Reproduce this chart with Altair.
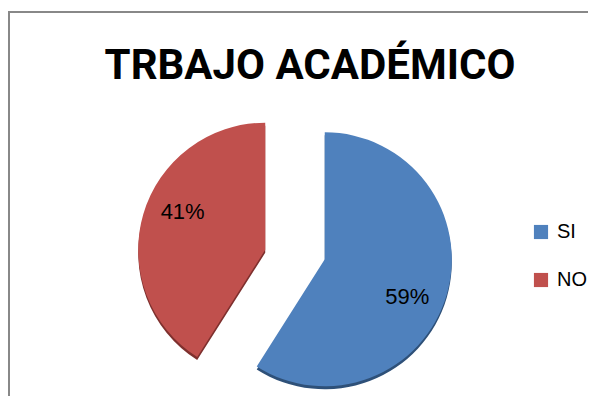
import altair as alt
import pandas as pd

# ---- data ----
categories = ["SI", "NO"]
values = [59, 41]
labels = ["59%", "41%"]
colors = ["#4F81BD", "#C0504D"]
edge_colors = ["#2E5078", "#7E302E"]
title_text = "TRBAJO ACADÉMICO"

df = pd.DataFrame({"cat": categories, "val": values, "label": labels,
                   "order": list(range(len(categories)))})

# ---- layout constants ----
W, H = 580, 385
CX, CY = 287, 243.5          # pie centre inside the view (pixels)
R = 127                      # pie radius
EXPLODE = 31                 # explode distance
TILT = 0.55                  # vertical squash of the 3-D look
LX, LY = 86, 135             # label offsets from slice apex
DEPTH = 3                    # 3-D edge thickness
FONT = "Liberation Sans"

xs = alt.Scale(domain=[-CX, W - CX], nice=False, zero=False)
ys = alt.Scale(domain=[-(H - CY), CY], nice=False, zero=False)

base = (
    alt.Chart(df)
    .transform_window(cum="sum(val)", sort=[alt.SortField("order")], frame=[None, 0])
    .transform_joinaggregate(total="sum(val)")
    .transform_calculate(
        t1="2*PI*datum.cum/datum.total",
        t0="2*PI*(datum.cum-datum.val)/datum.total",
    )
    .transform_calculate(mid="(datum.t0+datum.t1)/2")
    .transform_calculate(
        ex=f"{EXPLODE}*sin(datum.mid)",
        ey=f"{EXPLODE}*{TILT}*cos(datum.mid)",
    )
    .transform_calculate(
        eyd=f"datum.ey-{DEPTH}",
        lx=f"datum.ex+{LX}*sin(datum.mid)",
        ly=f"datum.ey+{LY}*cos(datum.mid)",
    )
)

edges = base.mark_arc(radius=R).encode(
    x=alt.X("ex:Q", scale=xs, axis=None),
    y=alt.Y("eyd:Q", scale=ys, axis=None),
    theta=alt.Theta("t0:Q", scale=None),
    theta2="t1:Q",
    color=alt.Color("cat:N", scale=alt.Scale(domain=categories, range=edge_colors), legend=None),
)

arcs = base.mark_arc(radius=R).encode(
    x=alt.X("ex:Q", scale=xs, axis=None),
    y=alt.Y("ey:Q", scale=ys, axis=None),
    theta=alt.Theta("t0:Q", scale=None),
    theta2="t1:Q",
    color=alt.Color(
        "cat:N",
        scale=alt.Scale(domain=categories, range=colors),
        sort=categories,
        legend=alt.Legend(
            title=None,
            orient="none",
            legendX=523,
            legendY=211,
            symbolType="square",
            symbolSize=200,
            symbolStrokeWidth=0,
            symbolOpacity=1,
            labelFont=FONT,
            labelFontSize=20,
            labelColor="#000000",
            labelOffset=6,
            rowPadding=28,
            padding=0,
        ),
    ),
)

text = base.mark_text(font=FONT, fontSize=22, color="#000000",
                      align="center", baseline="middle").encode(
    x=alt.X("lx:Q", scale=xs, axis=None),
    y=alt.Y("ly:Q", scale=ys, axis=None),
    text="label:N",
)

frame_df = pd.DataFrame({"k": [0]})
left_border = alt.Chart(frame_df).mark_rule(color="#888888", strokeWidth=2).encode(
    x=alt.value(1), y=alt.value(0), y2=alt.value(H + 20)
)
top_border = alt.Chart(frame_df).mark_rule(color="#888888", strokeWidth=2).encode(
    y=alt.value(1), x=alt.value(0), x2=alt.value(W + 20)
)
title = alt.Chart(frame_df).mark_text(
    font="Roboto", fontSize=42, fontWeight="bold", color="#000000",
    align="center", baseline="alphabetic",
).encode(x=alt.value(302), y=alt.value(68), text=alt.value(title_text))

chart = (
    alt.layer(edges, arcs, text, left_border, top_border, title)
    .resolve_scale(color="independent")
    .properties(
        width=W,
        height=H,
        autosize=alt.AutoSizeParams(type="none"),
        padding={"left": 0, "top": 3, "right": 0, "bottom": 0},
    )
    .configure_view(stroke=None)
    .configure(background="#FFFFFF")
)

chart.save("out.html", embed_options={"renderer": "svg", "actions": False})
